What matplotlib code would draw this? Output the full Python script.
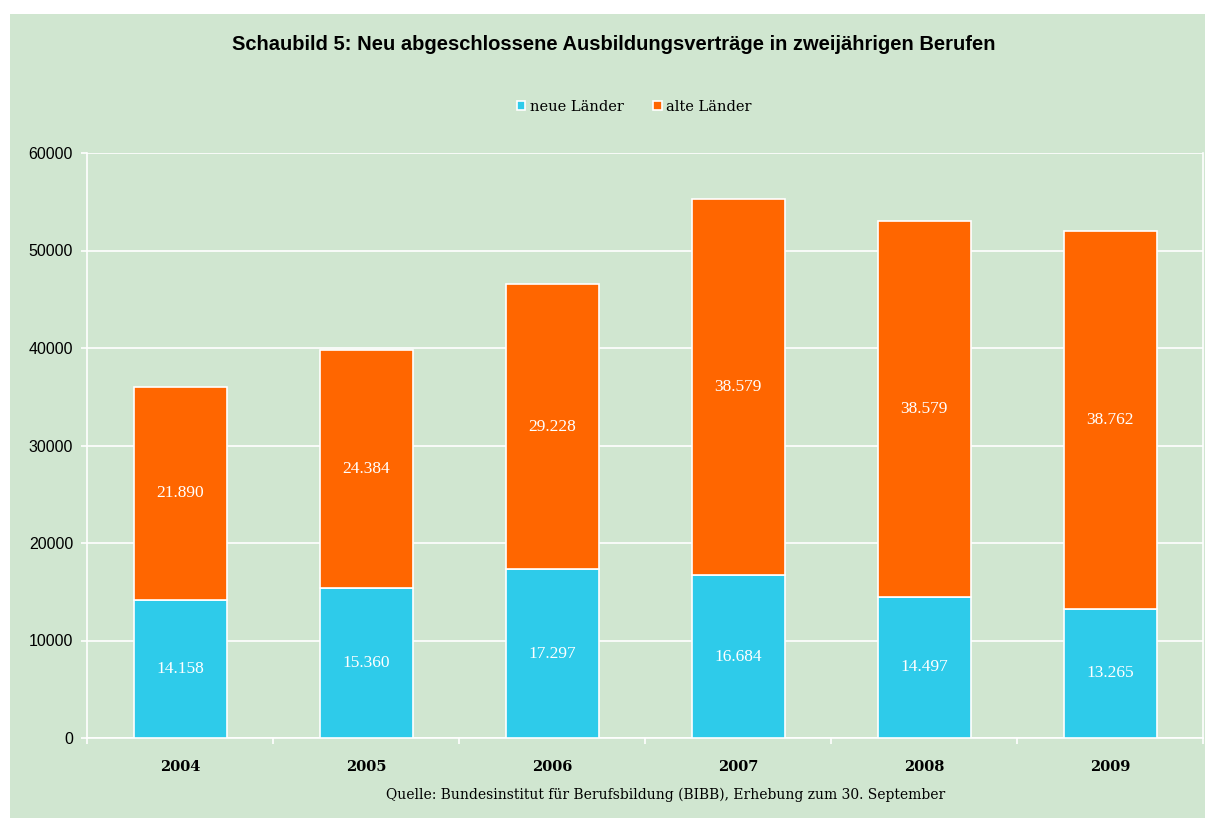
import numpy as np
import matplotlib.pyplot as plt

years = ['2004', '2005', '2006', '2007', '2008', '2009']
neue = [14158, 15360, 17297, 16684, 14497, 13265]
alte = [21890, 24384, 29228, 38579, 38579, 38762]

bg = '#d0e6d0'
cyan = '#2ecbea'
orange = '#ff6600'
serif = ['DejaVu Serif']

fig = plt.figure(figsize=(12.05, 8.18), dpi=100, facecolor='white')
# gruene Flaeche
fig.patches.append(plt.Rectangle((10/1205, 0), 1, 1 - 14/818, transform=fig.transFigure,
                                 facecolor=bg, edgecolor='none', zorder=-1))

ax = fig.add_axes([87/1205, 1 - 738/818, (1203 - 87)/1205, (738 - 153)/818])
ax.set_facecolor(bg)

x = np.arange(len(years))
b1 = ax.bar(x, neue, width=0.5, color=cyan, edgecolor='white', linewidth=1.2, zorder=3)
b2 = ax.bar(x, alte, width=0.5, bottom=neue, color=orange, edgecolor='white', linewidth=1.2, zorder=3)

def de(v):
    return '{:,}'.format(v).replace(',', '.')

for i in range(len(years)):
    ax.text(x[i], neue[i] / 2, de(neue[i]), ha='center', va='center', color='white',
            fontsize=12.5, family='Liberation Serif', zorder=4)
    ax.text(x[i], neue[i] + alte[i] / 2, de(alte[i]), ha='center', va='center', color='white',
            fontsize=12.5, family='Liberation Serif', zorder=4)

ax.set_xlim(-0.5, 5.5)
ax.set_ylim(0, 60000)
ax.set_yticks(range(0, 60001, 10000))
ax.yaxis.grid(True, color='white', linewidth=1.2, zorder=0)
ax.set_axisbelow(True)

ax.set_xticks(np.arange(-0.5, 6, 1))
ax.set_xticklabels([])
ax.set_xticks(x, minor=True)
ax.set_xticklabels(years, minor=True, fontsize=10.5, fontweight='bold', family=serif)
ax.tick_params(axis='x', which='minor', length=0, pad=16)
ax.tick_params(axis='x', which='major', length=4, color='white', width=1.2)
ax.tick_params(axis='y', length=4, color='white', width=1.2, labelsize=11.5, pad=6)
for lab in ax.get_yticklabels():
    lab.set_family('Liberation Sans')

ax.spines['top'].set_visible(False)
for s in ['left', 'bottom', 'right']:
    ax.spines[s].set_color('white')
    ax.spines[s].set_linewidth(1.2)

fig.text(614/1205, 1 - 45/818, 'Schaubild 5: Neu abgeschlossene Ausbildungsverträge in zweijährigen Berufen',
         ha='center', va='center', fontsize=14.5, fontweight='bold', family='Liberation Sans')

leg = fig.legend([b1, b2], ['neue Länder', 'alte Länder'], loc='center', ncol=2,
                 bbox_to_anchor=(634/1205, 1 - 107/818), frameon=False,
                 prop={'family': serif, 'size': 10.5}, handlelength=0.6, handleheight=0.6,
                 handletextpad=0.3, columnspacing=2.0)

fig.text(666/1205, 1 - 795/818, 'Quelle: Bundesinstitut für Berufsbildung (BIBB), Erhebung zum 30. September',
         ha='center', va='center', fontsize=10, family=serif)

fig.savefig('out.png', dpi=100, facecolor='white')
